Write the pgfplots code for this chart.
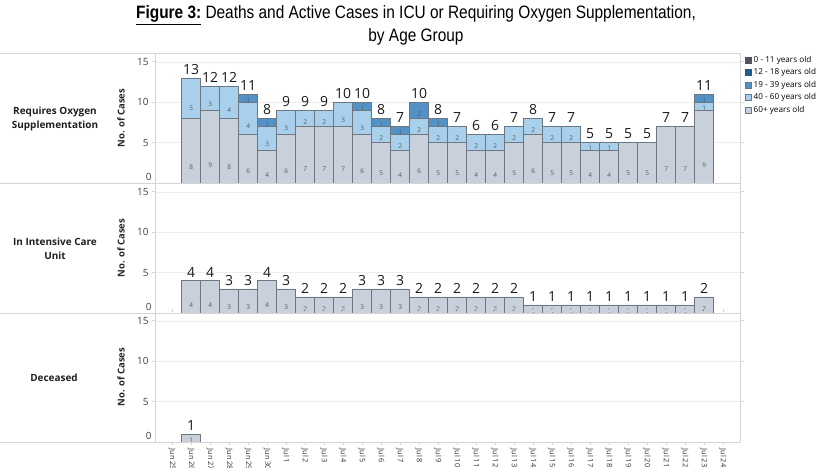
\documentclass[border=0pt]{standalone}
\usepackage{fontspec}
\setmainfont{Open Sans}
\newfontfamily\titlefont{Liberation Sans}[FakeStretch=0.86]
\usepackage{pgfplots}
\usepackage{pgfplotstable}
\pgfplotsset{compat=1.18}

\definecolor{c60}{RGB}{200,208,219}
\definecolor{c40}{RGB}{168,207,235}
\definecolor{c19}{RGB}{82,146,199}
\definecolor{c12}{RGB}{30,92,140}
\definecolor{c0}{RGB}{80,84,90}
\definecolor{bord}{RGB}{110,118,128}
\definecolor{framec}{RGB}{212,212,212}
\definecolor{gridc}{RGB}{238,238,238}

% requires oxygen supplementation, by age group; t = total of the day
\pgfplotstableread{
x p60 p40 p19 t
1  8 5 0 13
2  9 3 0 12
3  8 4 0 12
4  6 4 1 11
5  4 3 1 8
6  6 3 0 9
7  7 2 0 9
8  7 2 0 9
9  7 3 0 10
10 6 3 1 10
11 5 2 1 8
12 4 2 1 7
13 6 2 2 10
14 5 2 1 8
15 5 2 0 7
16 4 2 0 6
17 4 2 0 6
18 5 2 0 7
19 6 2 0 8
20 5 2 0 7
21 5 2 0 7
22 4 1 0 5
23 4 1 0 5
24 5 0 0 5
25 5 0 0 5
26 7 0 0 7
27 7 0 0 7
28 9 1 1 11
}\oxygen

% in intensive care unit (all 60+)
\pgfplotstableread{
x p60
1  4
2  4
3  3
4  3
5  4
6  3
7  2
8  2
9  2
10 3
11 3
12 3
13 2
14 2
15 2
16 2
17 2
18 2
19 1
20 1
21 1
22 1
23 1
24 1
25 1
26 1
27 1
28 2
}\icu

% deceased
\pgfplotstableread{
x p60
1 1
}\deceased

\pgfplotsset{
  frame/.style={
    scale only axis, anchor=south west,
    x=19bp, y=8.08bp,
    xmin=-0.9, xmax=29.95, ymin=0, ymax=16.09,
    /pgf/number format/assume math mode=true,
  },
  panel/.style={frame,
    ybar stacked, bar width=19bp,
    axis line style={draw=none},
    xtick=\empty,
    ytick={5,10,15},
    extra y ticks={0},
    extra y tick style={major tick length=0pt, yticklabel style={yshift=6bp}},
    ymajorgrids, grid style={draw=gridc, line width=0.5pt},
    tick align=outside, major tick length=3bp,
    tick style={draw=framec, line width=0.6pt},
    yticklabel style={font=\fontsize{10}{12}\selectfont, text=black!75},
    ylabel={No. of Cases},
    every axis y label/.style={at={(rel axis cs:0,0.5)}, xshift=-34bp,
      rotate=90, anchor=center, font=\bfseries\fontsize{9.5}{11}\selectfont, text=black!85},
  },
  seg/.style 2 args={fill=#1, draw=bord, line width=0.5pt, forget plot,
    visualization depends on={\thisrow{#2}\as\segv},
    nodes near coords={\ifdim\segv pt>0pt \pgfmathprintnumber{\segv}\fi},
    nodes near coords style={anchor=center, shift={(axis direction cs:0,-\segv/4)},
      font=\fontsize{6.5}{7}\selectfont, text=black!65}},
  labels/.style={frame, hide axis, clip=false},
  total/.style={only marks, mark=*, mark size=0pt, mark options={draw=none, fill=none},
    point meta=explicit, nodes near coords,
    nodes near coords style={anchor=south, font=\fontsize{14}{16}\selectfont, text=black!90}},
}

\begin{document}
\begin{tikzpicture}
\useasboundingbox (0,0) rectangle (830bp,468bp);

% Requires Oxygen Supplementation
\begin{axis}[panel, at={(155bp,285bp)},
  legend style={at={(rel axis cs:1,1.01)}, anchor=north west, xshift=1bp,
    draw=none, fill=none, font=\fontsize{8.2}{9}\selectfont,
    row sep=0.9bp, cells={anchor=west}},
  legend image code/.code={\draw[#1] (0bp,-3bp) rectangle (6bp,3bp);},
]
\addlegendimage{fill=c0, draw=c0}
\addlegendentry{0 - 11 years old}
\addlegendimage{fill=c12, draw=c12}
\addlegendentry{12 - 18 years old}
\addlegendimage{fill=c19, draw=bord}
\addlegendentry{19 - 39 years old}
\addlegendimage{fill=c40, draw=bord}
\addlegendentry{40 - 60 years old}
\addlegendimage{fill=c60, draw=bord}
\addlegendentry{60+ years old}
\addplot[seg={c60}{p60}] table[x=x, y=p60] {\oxygen};
\addplot[seg={c40}{p40}] table[x=x, y=p40] {\oxygen};
\addplot[seg={c19}{p19}] table[x=x, y=p19] {\oxygen};
\end{axis}
\begin{axis}[labels, at={(155bp,285bp)}]
\addplot[total] table[x=x, y=t, meta=t] {\oxygen};
\end{axis}

% In Intensive Care Unit
\begin{axis}[panel, at={(155bp,155bp)}]
\addplot[seg={c60}{p60}] table[x=x, y=p60] {\icu};
\end{axis}
\begin{axis}[labels, at={(155bp,155bp)}]
\addplot[total] table[x=x, y=p60, meta=p60] {\icu};
\end{axis}

% Deceased
\begin{axis}[panel, at={(155bp,26bp)},
  xtick={0,...,29},
  xticklabels={Jun 25,Jun 26,Jun 27,Jun 28,Jun 29,Jun 30,Jul 1,Jul 2,Jul 3,Jul 4,
    Jul 5,Jul 6,Jul 7,Jul 8,Jul 9,Jul 10,Jul 11,Jul 12,Jul 13,Jul 14,Jul 15,Jul 16,
    Jul 17,Jul 18,Jul 19,Jul 20,Jul 21,Jul 22,Jul 23,Jul 24},
  xticklabel style={rotate=-90, anchor=west, font=\fontsize{7.5}{9}\selectfont, text=black!80},
]
\addplot[seg={c60}{p60}] table[x=x, y=p60] {\deceased};
\end{axis}
\begin{axis}[labels, at={(155bp,26bp)}]
\addplot[total] table[x=x, y=p60, meta=p60] {\deceased};
\end{axis}

% frame
\begin{scope}[draw=framec, line width=0.6pt]
\draw (0,415bp) -- (740bp,415bp);
\draw (0,285bp) -- (740bp,285bp);
\draw (0,155bp) -- (740bp,155bp);
\draw (0,26bp) -- (740bp,26bp);
\draw (155bp,26bp) -- (155bp,415bp);
\draw (740bp,26bp) -- (740bp,415bp);
\end{scope}

% row headers
\begin{scope}[every node/.style={font=\bfseries\fontsize{10}{14}\selectfont, align=center, text=black!88}]
\node at (55bp,349bp) {Requires Oxygen\\Supplementation};
\node at (55bp,219bp) {In Intensive Care\\Unit};
\node at (54bp,90bp) {Deceased};
\end{scope}

% title
\node[anchor=base, font=\titlefont\fontsize{18}{22}\selectfont] at (416bp,449bp)
  {\underline{\textbf{Figure 3:}} Deaths and Active Cases in ICU or Requiring Oxygen Supplementation,};
\node[anchor=base, font=\titlefont\fontsize{18}{22}\selectfont] at (416bp,426bp) {by Age Group};
\end{tikzpicture}
\end{document}
